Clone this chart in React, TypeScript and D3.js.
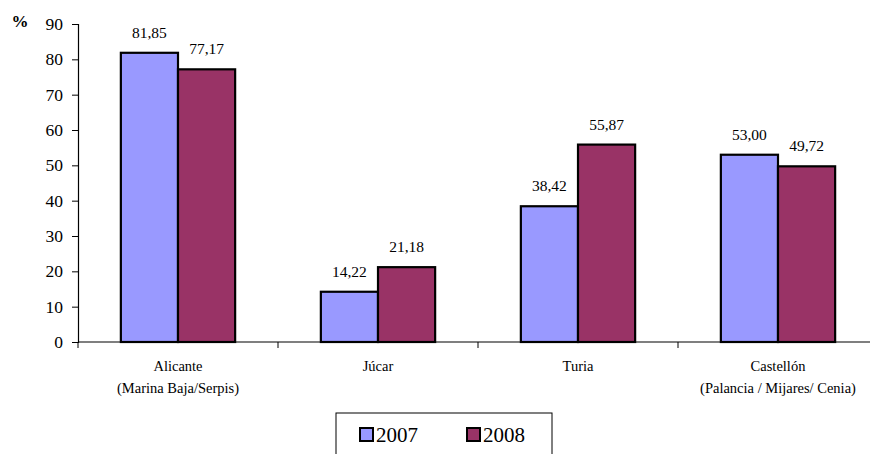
import * as d3 from "d3";
import { useEffect, useRef } from "react";

const categories = [
  ["Alicante", "(Marina Baja/Serpis)"],
  ["Júcar"],
  ["Turia"],
  ["Castellón", "(Palancia / Mijares/ Cenia)"],
];
const series = ["2007", "2008"];
const values2007 = [81.85, 14.22, 38.42, 53.0];
const values2008 = [77.17, 21.18, 55.87, 49.72];
const yTicks = [0, 10, 20, 30, 40, 50, 60, 70, 80, 90];
const colors = ["#9999FF", "#993366"];

function App() {
  const ref = useRef<SVGSVGElement | null>(null);

  useEffect(() => {
    const svg = d3.select(ref.current);
    svg.selectAll("*").remove();

    // plot area
    const left = 78, right = 878, top = 24, bottom = 342;
    const font = "'Liberation Serif', 'DejaVu Serif', serif";

    const x = d3.scaleBand()
      .domain(categories.map((_, i) => String(i)))
      .range([left, right]);
    const inner = d3.scaleBand()
      .domain(series)
      .range([0, x.bandwidth()])
      .paddingOuter(0.75);
    const y = d3.scaleLinear().domain([0, 90]).range([bottom, top]);

    const g = svg.append("g");

    // y axis
    const yAxis = g.append("g")
      .attr("transform", `translate(${left},0)`)
      .call(d3.axisLeft(y).tickValues(yTicks).tickSize(6).tickFormat(d3.format("d")));
    yAxis.attr("font-family", font);
    yAxis.select(".domain").attr("stroke", "#000").attr("stroke-width", 1.2);
    yAxis.selectAll("line").attr("stroke", "#000");
    yAxis.selectAll("text")
      .attr("font-size", 17.5)
      .attr("fill", "#000")
      .attr("x", -15);

    g.append("text")
      .attr("x", 20)
      .attr("y", 27)
      .attr("text-anchor", "middle")
      .attr("font-family", font)
      .attr("font-weight", "bold")
      .attr("font-size", 17)
      .text("%");

    const data = categories.map((c, i) => ({ i, vals: [values2007[i], values2008[i]] }));

    const groups = g.selectAll(".grp")
      .data(data)
      .enter()
      .append("g")
      .attr("transform", (d) => `translate(${x(String(d.i))},0)`);

    groups.selectAll("rect")
      .data((d) => d.vals.map((v, k) => ({ v, k })))
      .enter()
      .append("rect")
      .attr("x", (d) => inner(series[d.k])!)
      .attr("y", (d) => y(d.v))
      .attr("width", inner.bandwidth())
      .attr("height", (d) => bottom - y(d.v))
      .attr("fill", (d) => colors[d.k])
      .attr("stroke", "#000")
      .attr("stroke-width", 2.2);

    groups.selectAll(".lbl")
      .data((d) => d.vals.map((v, k) => ({ v, k })))
      .enter()
      .append("text")
      .attr("x", (d) => inner(series[d.k])! + inner.bandwidth() / 2)
      .attr("y", (d) => y(d.v) - 15)
      .attr("text-anchor", "middle")
      .attr("font-family", font)
      .attr("font-size", 15.5)
      .text((d) => d.v.toFixed(2).replace(".", ","));

    // x axis
    g.append("line")
      .attr("x1", left).attr("x2", right)
      .attr("y1", bottom).attr("y2", bottom)
      .attr("stroke", "#000").attr("stroke-width", 1.2);
    const bounds = categories.map((_, i) => x(String(i))!).concat([right]);
    g.selectAll(".xt")
      .data(bounds)
      .enter()
      .append("line")
      .attr("x1", (d) => d).attr("x2", (d) => d)
      .attr("y1", bottom).attr("y2", bottom + 6)
      .attr("stroke", "#000");

    categories.forEach((lines, i) => {
      const cx = x(String(i))! + x.bandwidth() / 2;
      lines.forEach((t, j) => {
        g.append("text")
          .attr("x", cx)
          .attr("y", 371 + j * 22)
          .attr("text-anchor", "middle")
          .attr("font-family", font)
          .attr("font-size", 14.5)
          .text(t);
      });
    });

    // legend
    const lg = g.append("g").attr("transform", "translate(336,413)");
    lg.append("rect")
      .attr("width", 216).attr("height", 50)
      .attr("fill", "#fff").attr("stroke", "#000").attr("stroke-width", 1);
    const legX = [24, 131];
    series.forEach((s, k) => {
      lg.append("rect")
        .attr("x", legX[k]).attr("y", 15)
        .attr("width", 13).attr("height", 13)
        .attr("fill", colors[k]).attr("stroke", "#000").attr("stroke-width", 2);
      lg.append("text")
        .attr("x", legX[k] + 16).attr("y", 29)
        .attr("font-family", font)
        .attr("font-size", 21)
        .text(s);
    });
  }, []);

  return (
    <svg
      ref={ref}
      width={870}
      height={454}
      style={{ position: "absolute", left: 0, top: 0, background: "#fff" }}
    ></svg>
  );
}

export default App;
